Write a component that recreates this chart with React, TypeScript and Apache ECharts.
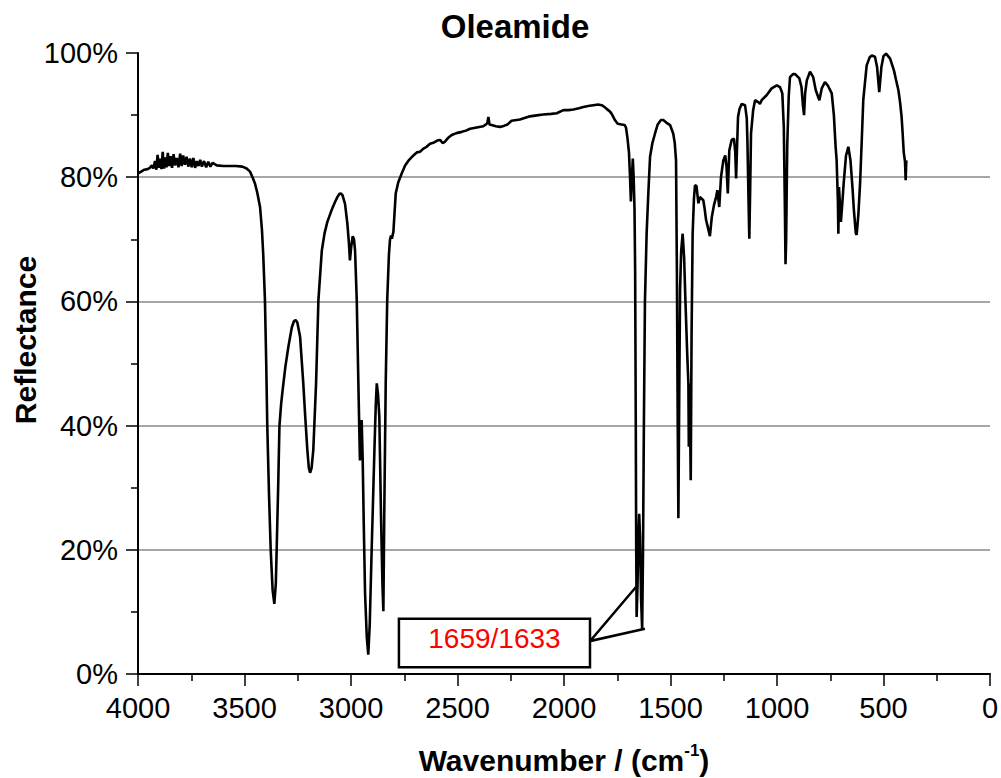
import React, { useEffect, useRef } from "react";
import * as echarts from "echarts";

const TITLE = "Oleamide";
const X_TICKS = [4000, 3500, 3000, 2500, 2000, 1500, 1000, 500, 0];
const Y_TICKS = [0, 20, 40, 60, 80, 100];
const ANNOTATION = "1659/1633";

// wavenumber (cm-1), descending
const wavenumber: number[] = [
  4000, 3985, 3970, 3955, 3944, 3935, 3928, 3920, 3914, 3908, 3902, 3896, 3890, 3884, 3878, 3872, 3866, 3860, 3853, 3847,
  3840, 3833, 3826, 3818, 3810, 3802, 3795, 3788, 3780, 3772, 3764, 3756, 3748, 3740, 3732, 3724, 3716, 3708, 3700, 3690,
  3680, 3670, 3660, 3650, 3630, 3600, 3570, 3540, 3510, 3490, 3474, 3460, 3451, 3440, 3427, 3418, 3412, 3404, 3398, 3393,
  3385, 3377, 3368, 3360, 3353, 3349, 3342, 3336, 3328, 3321, 3308, 3294, 3278, 3268, 3260, 3252, 3239, 3224, 3215, 3205,
  3198, 3192, 3185, 3177, 3164, 3153, 3137, 3124, 3111, 3091, 3075, 3064, 3055, 3048, 3040, 3028, 3017, 3010, 3005, 2999,
  2992, 2986, 2981, 2973, 2962, 2958, 2954, 2950, 2945, 2940, 2934, 2926, 2919, 2912, 2903, 2890, 2884, 2879, 2873, 2867,
  2859, 2852, 2848, 2844, 2837, 2830, 2822, 2817, 2812, 2808, 2801, 2790, 2778, 2762, 2746, 2727, 2707, 2690, 2676, 2660,
  2645, 2629, 2610, 2595, 2582, 2570, 2560, 2545, 2527, 2505, 2480, 2460, 2441, 2410, 2379, 2366, 2360, 2355, 2350, 2340,
  2320, 2300, 2280, 2265, 2246, 2207, 2160, 2120, 2097, 2060, 2034, 2003, 1980, 1956, 1930, 1909, 1880, 1862, 1840, 1823,
  1810, 1800, 1785, 1776, 1761, 1748, 1730, 1715, 1709, 1702, 1695, 1690, 1686, 1681, 1677, 1673, 1669, 1666, 1663, 1661,
  1659, 1655, 1651, 1647, 1643, 1638, 1633, 1629, 1625, 1620, 1612, 1604, 1596, 1585, 1573, 1560, 1545, 1534, 1520, 1502,
  1487, 1480, 1474, 1470, 1466, 1463, 1459, 1455, 1450, 1443, 1436, 1430, 1422, 1416, 1414, 1411, 1408, 1405, 1401, 1396,
  1390, 1385, 1378, 1369, 1362, 1346, 1340, 1333, 1325, 1315, 1306, 1296, 1286, 1280, 1271, 1263, 1252, 1243, 1237, 1231,
  1224, 1213, 1202, 1196, 1192, 1188, 1183, 1176, 1166, 1150, 1142, 1139, 1133, 1130, 1126, 1122, 1112, 1103, 1088, 1080,
  1072, 1049, 1025, 1001, 986, 975, 968, 963, 960, 957, 952, 945, 939, 925, 915, 895, 885, 878, 873, 868,
  860, 845, 830, 818, 801, 790, 775, 762, 743, 733, 725, 720, 714, 712, 709, 705, 700, 693, 687, 676,
  665, 655, 645, 639, 630, 626, 618, 610, 602, 595, 579, 565, 555, 540, 530, 520, 510, 500, 488, 469,
  451, 440, 430, 422, 415, 410, 405, 399, 396, 393, 391,
];

// reflectance (%), same order
const reflectance: number[] = [
  80.6, 80.9, 81.2, 81.3, 81.5, 81.9, 81.4, 82.6, 81.2, 83.6, 81.5, 83.0, 81.3, 84.1, 81.4, 83.2, 81.6, 83.9, 81.8, 83.4,
  81.5, 83.7, 81.9, 83.1, 81.6, 83.8, 81.8, 83.5, 82.0, 83.3, 81.7, 83.0, 81.6, 83.1, 81.5, 82.6, 81.8, 82.8, 81.7, 82.6,
  81.6, 82.5, 81.7, 82.3, 81.9, 81.8, 81.8, 81.8, 81.7, 81.4, 80.9, 79.8, 79.0, 77.5, 75.2, 71.5, 67.5, 60.2, 50.0, 39.9,
  29.0, 20.0, 13.5, 11.3, 14.5, 20.0, 30.0, 39.9, 43.5, 45.7, 49.5, 52.7, 55.8, 56.8, 57.0, 56.6, 54.3, 46.8, 41.5, 36.1,
  33.2, 32.4, 33.2, 36.1, 46.8, 60.2, 68.2, 71.0, 72.8, 74.7, 76.0, 76.8, 77.3, 77.4, 77.1, 75.7, 72.5, 69.5, 66.6, 68.8,
  70.5, 70.0, 68.2, 60.2, 40.9, 34.4, 37.0, 40.9, 34.4, 24.0, 13.0, 6.0, 3.1, 8.0, 20.0, 36.1, 43.0, 46.8, 45.0, 41.4,
  25.3, 14.0, 10.1, 25.3, 46.8, 60.2, 67.5, 69.9, 70.6, 70.1, 71.2, 77.4, 79.2, 80.6, 81.9, 82.8, 83.5, 84.0, 84.1, 84.6,
  84.9, 85.4, 85.6, 85.9, 86.0, 85.5, 85.7, 86.3, 86.8, 87.1, 87.3, 87.5, 87.8, 88.0, 88.2, 88.5, 88.7, 89.7, 88.5, 88.4,
  88.2, 88.1, 88.3, 88.5, 89.1, 89.3, 89.8, 90.0, 90.1, 90.2, 90.3, 90.8, 90.8, 90.9, 91.1, 91.3, 91.5, 91.6, 91.7, 91.6,
  91.3, 91.0, 90.6, 90.2, 89.2, 88.6, 88.5, 88.4, 88.0, 86.3, 84.0, 80.0, 76.1, 80.0, 83.0, 80.0, 75.0, 65.0, 40.0, 20.0,
  9.2, 14.0, 21.6, 25.8, 22.0, 12.0, 7.1, 20.0, 40.0, 60.0, 71.0, 77.5, 83.3, 85.5, 87.0, 88.5, 89.2, 89.2, 88.8, 88.4,
  87.0, 85.5, 82.7, 65.0, 40.0, 25.1, 45.0, 62.0, 68.0, 70.9, 67.0, 60.2, 52.0, 46.8, 36.6, 46.8, 40.0, 31.2, 55.0, 70.9,
  76.5, 78.7, 78.6, 75.8, 76.8, 76.3, 75.0, 73.1, 72.0, 70.5, 73.6, 75.5, 76.8, 77.9, 75.2, 80.0, 82.7, 83.5, 81.7, 77.4,
  84.3, 86.0, 86.2, 84.0, 79.8, 84.3, 89.7, 91.0, 91.8, 91.6, 89.5, 86.0, 75.0, 70.1, 78.0, 87.0, 90.8, 92.4, 92.1, 91.8,
  92.4, 93.2, 94.3, 94.8, 94.5, 93.5, 88.0, 75.0, 66.0, 70.0, 85.0, 93.0, 96.1, 96.6, 96.6, 95.9, 94.5, 91.5, 90.0, 93.5,
  95.6, 97.0, 96.1, 94.0, 92.4, 94.3, 95.3, 94.8, 93.5, 90.0, 85.0, 82.7, 76.0, 70.9, 78.4, 76.0, 72.8, 76.0, 79.0, 83.5,
  84.9, 82.7, 78.0, 74.7, 71.0, 70.7, 74.0, 79.0, 86.0, 92.4, 98.0, 99.3, 99.6, 99.4, 97.7, 93.7, 97.7, 99.5, 99.9, 99.1,
  97.2, 95.5, 94.0, 92.0, 89.7, 87.0, 84.0, 82.5, 79.5, 82.6, 82.5,
];

// annotation anchors in data space [wavenumber, %]
const ANN_BOX_TL = [2775, 8.9];
const ANN_BOX_BR = [1878, 1.1];
const ANN_FROM = [1878, 5.3];
const ANN_TO_1 = [1662, 14.0];
const ANN_TO_2 = [1620, 7.3];

const FONT = "'Liberation Sans', Arial, Helvetica, sans-serif";

export default function App() {
  const ref = useRef<HTMLDivElement>(null);

  useEffect(() => {
    if (!ref.current) return;
    const chart = echarts.init(ref.current, undefined, { renderer: "svg" });
    const data = wavenumber.map((w, i) => [w, reflectance[i]]);

    chart.setOption({
      animation: false,
      backgroundColor: "#ffffff",
      grid: { left: 138, right: 11, top: 53, bottom: 104, containLabel: false, outerBoundsMode: "none" },
      xAxis: {
        type: "value",
        inverse: true,
        min: X_TICKS[X_TICKS.length - 1],
        max: X_TICKS[0],
        interval: 500,
        name: "{a|Wavenumber / (cm}{b|-1}{a|)}",
        nameLocation: "middle",
        nameGap: 68,
        nameTextStyle: {
          rich: {
            a: { fontFamily: FONT, fontSize: 30, fontWeight: "bold", color: "#000", lineHeight: 36 },
            b: { fontFamily: FONT, fontSize: 17, fontWeight: "bold", color: "#000", verticalAlign: "top", lineHeight: 36, padding: [0, 0, 22, 0] },
          },
        },
        axisLine: { show: true, onZero: false, lineStyle: { color: "#000", width: 2 } },
        axisTick: { show: true, inside: false, length: 12, lineStyle: { color: "#000", width: 1.5 } },
        minorTick: { show: true, splitNumber: 2, length: 7, lineStyle: { color: "#000", width: 1.5 } },
        splitLine: { show: false },
        axisLabel: { color: "#000", fontFamily: FONT, fontSize: 29, margin: 19, formatter: (v: number) => String(v) },
      },
      yAxis: {
        type: "value",
        min: Y_TICKS[0],
        max: Y_TICKS[Y_TICKS.length - 1],
        interval: 20,
        axisLine: { show: true, onZero: false, lineStyle: { color: "#000", width: 2 } },
        axisTick: { show: true, inside: false, length: 12, lineStyle: { color: "#000", width: 1.5 } },
        minorTick: { show: true, splitNumber: 2, length: 7, lineStyle: { color: "#000", width: 1.5 } },
        splitLine: { show: true, showMinLine: false, showMaxLine: false, lineStyle: { color: "#8a8a8a", width: 1.5 } },
        axisLabel: { color: "#000", fontFamily: FONT, fontSize: 29, margin: 20, formatter: "{value}%" },
      },
      series: [
        {
          type: "line",
          data,
          showSymbol: false,
          symbol: "none",
          lineStyle: { color: "#000", width: 2.6 },
          z: 3,
        },
      ],
    });

    const p = (v: number[]) => chart.convertToPixel({ gridIndex: 0 }, v) as number[];
    const tl = p(ANN_BOX_TL);
    const br = p(ANN_BOX_BR);
    const from = p(ANN_FROM);
    const to1 = p(ANN_TO_1);
    const to2 = p(ANN_TO_2);

    chart.setOption({
      graphic: [
        {
          type: "text",
          x: 515,
          y: 26,
          style: { text: TITLE, fontFamily: FONT, fontSize: 33, fontWeight: "bold", fill: "#000", textAlign: "center", textVerticalAlign: "middle" },
          z: 10,
        },
        {
          type: "text",
          x: 25,
          y: 340,
          rotation: Math.PI / 2,
          style: { text: "Reflectance", fontFamily: FONT, fontSize: 30, fontWeight: "bold", fill: "#000", textAlign: "center", textVerticalAlign: "middle" },
          z: 10,
        },
        {
          type: "polyline",
          shape: { points: [to1, from, to2] },
          style: { stroke: "#000", lineWidth: 2.5, fill: "none" },
          z: 10,
        },
        {
          type: "rect",
          shape: { x: tl[0], y: tl[1], width: br[0] - tl[0], height: br[1] - tl[1] },
          style: { fill: "#fff", stroke: "#000", lineWidth: 2.5 },
          z: 11,
        },
        {
          type: "text",
          x: (tl[0] + br[0]) / 2,
          y: (tl[1] + br[1]) / 2 - 4,
          style: { text: ANNOTATION, fontFamily: FONT, fontSize: 28, fill: "#ff0000", textAlign: "center", textVerticalAlign: "middle" },
          z: 12,
        },
      ],
    });

    return () => chart.dispose();
  }, []);

  return <div ref={ref} style={{ position: "absolute", left: 0, top: 0, width: 1001, height: 778 }} />;
}
